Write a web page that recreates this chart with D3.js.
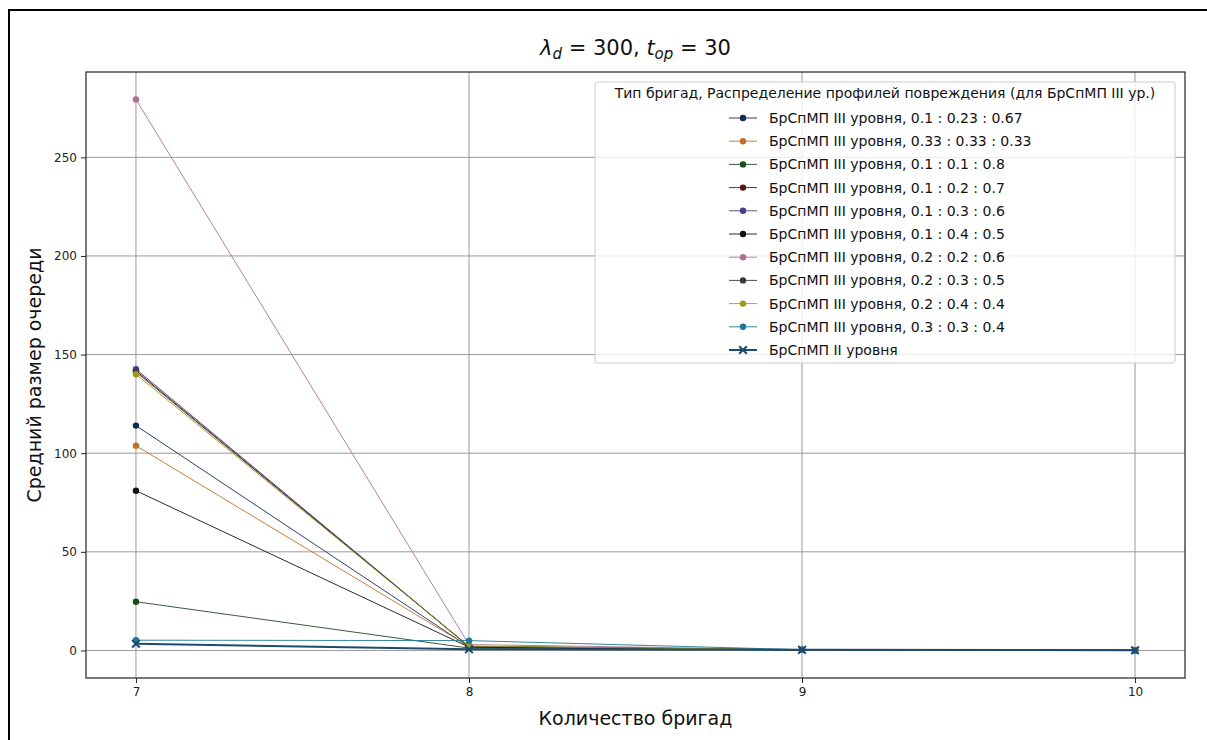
<!DOCTYPE html>
<html>
<head>
<meta charset="utf-8">
<script src="https://cdn.jsdelivr.net/npm/d3@7"></script>
<style>
  html, body { margin: 0; padding: 0; background: #fff; }
  svg { display: block; font-family: "DejaVu Sans", sans-serif; }
</style>
</head>
<body>
<svg id="chart" width="1207" height="740"></svg>
<script>
// Number of brigades on the x axis
const brigades = [7, 8, 9, 10];
const xTicks = [7, 8, 9, 10];
const yTicks = [0, 50, 100, 150, 200, 250];

// Mean queue size for level III brigades, by damage-profile distribution
const q_01_023_067 = [114.0, 1.8, 0.3, 0.1];
const q_033_033_033 = [103.8, 2.0, 0.3, 0.1];
const q_01_01_08 = [24.7, 1.2, 0.3, 0.1];
const q_01_02_07 = [141.8, 1.9, 0.3, 0.1];
const q_01_03_06 = [142.6, 2.0, 0.3, 0.1];
const q_01_04_05 = [81.0, 1.7, 0.3, 0.1];
const q_02_02_06 = [279.3, 3.0, 0.4, 0.1];
const q_02_03_05 = [141.2, 2.1, 0.3, 0.1];
const q_02_04_04 = [140.0, 2.2, 0.3, 0.1];
const q_03_03_04 = [5.2, 5.0, 0.4, 0.1];
// Level II brigades
const q_level2 = [3.4, 0.6, 0.3, 0.1];

const seriesLabels = [
  "БрСпМП III уровня, 0.1 : 0.23 : 0.67",
  "БрСпМП III уровня, 0.33 : 0.33 : 0.33",
  "БрСпМП III уровня, 0.1 : 0.1 : 0.8",
  "БрСпМП III уровня, 0.1 : 0.2 : 0.7",
  "БрСпМП III уровня, 0.1 : 0.3 : 0.6",
  "БрСпМП III уровня, 0.1 : 0.4 : 0.5",
  "БрСпМП III уровня, 0.2 : 0.2 : 0.6",
  "БрСпМП III уровня, 0.2 : 0.3 : 0.5",
  "БрСпМП III уровня, 0.2 : 0.4 : 0.4",
  "БрСпМП III уровня, 0.3 : 0.3 : 0.4",
  "БрСпМП II уровня"
];
const seriesColors = [
  "#14285a", "#c0702a", "#1f4a1f", "#5a1414", "#4a3c80", "#121212",
  "#b0708e", "#3a3a3a", "#9a9a18", "#1f7896", "#1d4a6e"
];
const seriesValues = [
  q_01_023_067, q_033_033_033, q_01_01_08, q_01_02_07, q_01_03_06, q_01_04_05,
  q_02_02_06, q_02_03_05, q_02_04_04, q_03_03_04, q_level2
];

const series = seriesLabels.map((label, i) => ({
  label,
  color: seriesColors[i],
  values: seriesValues[i],
  cross: i === seriesLabels.length - 1
}));

const svg = d3.select("#chart");

// outer figure frame
svg.append("rect")
  .attr("x", 9).attr("y", 10).attr("width", 1230).attr("height", 760)
  .attr("fill", "none").attr("stroke", "#000").attr("stroke-width", 2);

const plot = { left: 86, right: 1185, top: 72, bottom: 678 };

const x = d3.scaleLinear().domain([6.85, 10.15]).range([plot.left, plot.right]);
const yMax = d3.max(seriesValues, v => d3.max(v));
const pad = yMax * 0.05;
const y = d3.scaleLinear().domain([-pad, yMax + pad]).range([plot.bottom, plot.top]);

// grid
const grid = svg.append("g");
grid.selectAll(".gx").data(xTicks).join("line")
  .attr("x1", d => x(d)).attr("x2", d => x(d))
  .attr("y1", plot.top).attr("y2", plot.bottom)
  .attr("stroke", "#9a9a9a").attr("stroke-width", 1);
grid.selectAll(".gy").data(yTicks).join("line")
  .attr("x1", plot.left).attr("x2", plot.right)
  .attr("y1", d => y(d)).attr("y2", d => y(d))
  .attr("stroke", "#9a9a9a").attr("stroke-width", 1);

// axes
const xAxis = svg.append("g")
  .attr("transform", `translate(0,${plot.bottom})`)
  .call(d3.axisBottom(x).tickValues(xTicks).tickSize(5).tickPadding(4).tickFormat(d3.format("d")));
const yAxis = svg.append("g")
  .attr("transform", `translate(${plot.left},0)`)
  .call(d3.axisLeft(y).tickValues(yTicks).tickSize(5).tickPadding(4).tickFormat(d3.format("d")));
[xAxis, yAxis].forEach(a => {
  a.select(".domain").remove();
  a.selectAll("text").attr("font-size", 12).attr("fill", "#222")
    .attr("font-family", "DejaVu Sans, sans-serif");
  a.selectAll("line").attr("stroke", "#222");
});

// series lines and markers
const line = d3.line().x((d, i) => x(brigades[i])).y(d => y(d));
const marks = svg.append("g");
series.forEach(s => {
  const g = marks.append("g");
  g.append("path")
    .attr("d", line(s.values))
    .attr("fill", "none")
    .attr("stroke", s.color)
    .attr("stroke-width", s.cross ? 2 : 0.9);
  if (s.cross) {
    const sym = d3.symbol().type(d3.symbolX).size(40);
    g.selectAll("path.m").data(s.values).join("path")
      .attr("class", "m")
      .attr("d", sym)
      .attr("transform", (d, i) => `translate(${x(brigades[i])},${y(d)})`)
      .attr("stroke", s.color).attr("stroke-width", 2).attr("fill", "none");
  } else {
    g.selectAll("circle").data(s.values).join("circle")
      .attr("cx", (d, i) => x(brigades[i]))
      .attr("cy", d => y(d))
      .attr("r", 3.2)
      .attr("fill", s.color);
  }
});

// plot frame
svg.append("rect")
  .attr("x", plot.left).attr("y", plot.top)
  .attr("width", plot.right - plot.left).attr("height", plot.bottom - plot.top)
  .attr("fill", "none").attr("stroke", "#222").attr("stroke-width", 1.2);

// title
const title = svg.append("text")
  .attr("x", (plot.left + plot.right) / 2).attr("y", 55)
  .attr("text-anchor", "middle").attr("font-size", 21).attr("fill", "#111");
title.append("tspan").attr("font-style", "italic").text("λ");
title.append("tspan").attr("font-style", "italic").attr("font-size", 15).attr("dy", 4).text("d");
title.append("tspan").attr("dy", -4).text(" = 300, ");
title.append("tspan").attr("font-style", "italic").text("t");
title.append("tspan").attr("font-style", "italic").attr("font-size", 15).attr("dy", 4).text("op");
title.append("tspan").attr("dy", -4).text(" = 30");

// axis labels
svg.append("text")
  .attr("x", (plot.left + plot.right) / 2).attr("y", 725)
  .attr("text-anchor", "middle").attr("font-size", 19).attr("fill", "#111")
  .text("Количество бригад");
svg.append("text")
  .attr("transform", `translate(41,${(plot.top + plot.bottom) / 2}) rotate(-90)`)
  .attr("text-anchor", "middle").attr("font-size", 19).attr("fill", "#111")
  .text("Средний размер очереди");

// legend
const legendFont = 14;
const lg = svg.append("g");
const rowY = i => 118 + i * 23.2;
lg.append("rect")
  .attr("x", 595).attr("y", 82).attr("width", 580).attr("height", rowY(series.length - 1) + 13 - 82)
  .attr("rx", 2)
  .attr("fill", "#fff").attr("fill-opacity", 0.82)
  .attr("stroke", "#cccccc");
lg.append("text")
  .attr("x", 885).attr("y", 98)
  .attr("text-anchor", "middle").attr("font-size", legendFont).attr("fill", "#111")
  .text("Тип бригад, Распределение профилей повреждения (для БрСпМП III ур.)");
series.forEach((s, i) => {
  const ry = rowY(i);
  lg.append("line")
    .attr("x1", 729).attr("x2", 757).attr("y1", ry).attr("y2", ry)
    .attr("stroke", s.color).attr("stroke-width", s.cross ? 2 : 0.9);
  if (s.cross) {
    lg.append("path").attr("d", d3.symbol().type(d3.symbolX).size(40)())
      .attr("transform", `translate(743,${ry})`)
      .attr("stroke", s.color).attr("stroke-width", 2).attr("fill", "none");
  } else {
    lg.append("circle").attr("cx", 743).attr("cy", ry).attr("r", 3.2).attr("fill", s.color);
  }
  lg.append("text")
    .attr("x", 769).attr("y", ry + 5)
    .attr("font-size", legendFont).attr("fill", "#111")
    .text(s.label);
});
</script>
</body>
</html>
